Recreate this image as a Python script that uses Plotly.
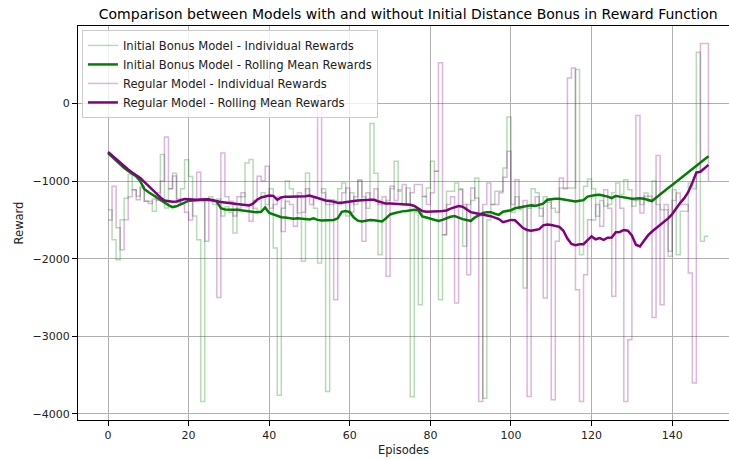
import plotly.graph_objects as go

episodes = list(range(150))

bonus_rewards = [
    -1368, -1755, -2013, -1497, -1220, -916, -1110, -1196, -1067, -1260,
    -1260, -1390, -1150, -658, -1346, -1100, -900, -1280, -1100, -723,
    -940, -1450, -1755, -3841, -1250, -1200, -1300, -1230, -1450, -1330,
    -1400, -1670, -1350, -1200, -765, -722, -1350, -1400, -1150, -1300,
    -1100, -1862, -3760, -1350, -1000, -1100, -1200, -1411, -2034, -895,
    -1200, -1350, -2056, -1100, -3712, -1300, -1250, -1100, -1024, -1450,
    -1150, -1300, -981, -1200, -1350, -258, -900, -1948, -1300, -1250,
    -1100, -744, -1131, -1300, -1088, -3780, -1400, -2594, -1200, -1088,
    -744, -873, -2529, -1690, -1131, -1131, -1024, -1100, -1840, -1300,
    -1250, -959, -1450, -3800, -1500, -1300, -1131, -1131, -830, -172,
    -1400, -1200, -1368, -2378, -1350, -1100, -1150, -1453, -1200, -1273,
    -1350, -1400, -1088, -1088, -1088, -1088, 440, -1948, -1067, -972,
    -1100, -1453, -1250, -1325, -1300, -1150, -1024, -1174, -981, -1110,
    -1325, -1250, -1300, -1153, -1260, -1000, -1300, -1368, -1368, -1970,
    -1110, -1948, -1390, -1390, -1024, -1100, 662, -1776, -1712, -1712,
]

bonus_rolling = [
    -640, -690, -740, -790, -830, -870, -905, -940, -1000, -1100,
    -1140, -1175, -1210, -1245, -1280, -1310, -1335, -1325, -1300, -1275,
    -1255, -1250, -1245, -1245, -1240, -1245, -1250, -1265, -1350, -1365,
    -1370, -1368, -1370, -1378, -1385, -1395, -1400, -1402, -1395, -1340,
    -1410, -1430, -1445, -1465, -1470, -1478, -1485, -1480, -1485, -1490,
    -1495, -1480, -1500, -1508, -1505, -1505, -1500, -1480, -1395, -1385,
    -1400, -1470, -1510, -1520, -1510, -1500, -1505, -1515, -1520, -1480,
    -1430, -1415, -1400, -1390, -1385, -1380, -1370, -1375, -1455, -1470,
    -1485, -1500, -1515, -1500, -1475, -1460, -1450, -1475, -1490, -1500,
    -1515, -1470, -1440, -1410, -1400, -1400, -1420, -1435, -1395, -1385,
    -1375, -1350, -1340, -1335, -1320, -1313, -1320, -1305, -1290, -1240,
    -1232, -1228, -1228, -1235, -1245, -1258, -1262, -1252, -1245, -1200,
    -1185, -1178, -1175, -1185, -1200, -1218, -1190, -1200, -1210, -1220,
    -1226, -1225, -1220, -1228, -1245, -1257, -1215, -1170, -1130, -1090,
    -1050, -1010, -970, -930, -890, -850, -810, -770, -725, -680,
]

regular_rewards = [
    -1500, -1067, -1600, -1884, -1497, -1200, -1110, -1240, -1090, -1260,
    -1290, -1230, -1250, -1000, -430, -1100, -935, -1230, -1300, -1400,
    -1500, -1250, -886, -1250, -1776, -1240, -1260, -2500, -637, -1200,
    -1260, -1450, -1200, -1150, -1300, -1518, -1250, -938, -1000, -808,
    -1350, -1300, -1200, -1650, -1260, -1300, -1583, -1150, -1400, -1100,
    -1300, -1200, 100, -1150, -1300, -1239, -2529, -1300, -1150, -1088,
    -1400, -1200, -1000, -1776, -1150, -1250, -1100, -1300, -1200, -2228,
    -1067, -1250, -1110, -1045, -1300, -1150, -1045, -1045, -1196, -1300,
    -1150, -873, 525, -1690, -1303, -1200, -2572, -1110, -1300, -2206,
    -1088, -1217, -3841, -1300, -1024, -1303, -1303, -1150, -950, -615,
    -1300, -981, -1350, -1250, -3776, -1303, -1200, -1350, -2507, -1250,
    -3819, -1776, -959, -1100, 330, 460, -2400, -3841, -2206, -1497,
    -1500, -1300, -1583, -1110, -1350, -2486, -1200, -1350, -3841, -3045,
    -1250, -155, -1411, -1196, -1196, -2757, -671, -2594, -1300, -1905,
    -1250, -1153, -1303, -1303, -2185, -3604, -887, 774, 774, -1000,
]

regular_rolling = [
    -625, -670, -720, -770, -810, -850, -890, -925, -960, -1010,
    -1060, -1110, -1165, -1210, -1250, -1262, -1265, -1262, -1245, -1232,
    -1235, -1240, -1240, -1238, -1232, -1235, -1245, -1260, -1268, -1275,
    -1285, -1292, -1295, -1300, -1308, -1313, -1290, -1240, -1210, -1195,
    -1185, -1190, -1240, -1210, -1200, -1200, -1198, -1200, -1200, -1195,
    -1185, -1200, -1220, -1240, -1250, -1255, -1270, -1280, -1280, -1270,
    -1260, -1255, -1250, -1250, -1245, -1240, -1240, -1260, -1275, -1290,
    -1290, -1292, -1292, -1295, -1300, -1305, -1320, -1348, -1385, -1395,
    -1395, -1390, -1390, -1385, -1378, -1355, -1335, -1322, -1330, -1360,
    -1400, -1410, -1420, -1430, -1445, -1452, -1470, -1490, -1530, -1515,
    -1500, -1505, -1560, -1605, -1630, -1640, -1630, -1620, -1570, -1560,
    -1565, -1580, -1590, -1640, -1740, -1810, -1826, -1815, -1813, -1760,
    -1713, -1750, -1735, -1757, -1730, -1726, -1660, -1655, -1630, -1640,
    -1700, -1820, -1843, -1770, -1700, -1650, -1610, -1570, -1530, -1480,
    -1425, -1350, -1280, -1220, -1140, -1020, -890, -880, -840, -790,
]

x_ticks = [0, 20, 40, 60, 80, 100, 120, 140]
y_ticks = [-4000, -3000, -2000, -1000, 0]

GREEN = "#008000"
PURPLE = "#800080"
FONT = "DejaVu Sans"

fig = go.Figure()
fig.add_trace(go.Scatter(
    x=episodes, y=bonus_rewards, mode="lines",
    line=dict(color=GREEN, width=1.5, shape="hv"), opacity=0.28,
    name="Initial Bonus Model - Individual Rewards"))
fig.add_trace(go.Scatter(
    x=episodes, y=bonus_rolling, mode="lines",
    line=dict(color=GREEN, width=2.5),
    name="Initial Bonus Model - Rolling Mean Rewards"))
fig.add_trace(go.Scatter(
    x=episodes, y=regular_rewards, mode="lines",
    line=dict(color=PURPLE, width=1.5, shape="hv"), opacity=0.28,
    name="Regular Model - Individual Rewards"))
fig.add_trace(go.Scatter(
    x=episodes, y=regular_rolling, mode="lines",
    line=dict(color=PURPLE, width=2.5),
    name="Regular Model - Rolling Mean Rewards"))

fig.update_layout(
    width=729, height=460,
    margin=dict(l=78, r=0, t=26, b=40),
    paper_bgcolor="white", plot_bgcolor="white",
    font=dict(family=FONT, size=11, color="#222"),
    title=dict(text="Comparison between Models with and without Initial Distance Bonus in Reward Function",
               x=0.56, xanchor="center", y=0.98, yanchor="top",
               font=dict(family=FONT, size=14, color="black")),
    legend=dict(x=0.006, y=0.99, xanchor="left", yanchor="top",
                bgcolor="rgba(255,255,255,0.8)", bordercolor="#cccccc", borderwidth=1,
                font=dict(family=FONT, size=11.6, color="#222"),
                tracegroupgap=0, itemwidth=30),
    showlegend=True,
)
fig.update_xaxes(
    range=[-7.45, 154.1], tickvals=x_ticks, showgrid=True, gridcolor="#b0b0b0", gridwidth=1,
    zeroline=False, showline=True, linecolor="black", linewidth=1, mirror=True,
    ticks="outside", ticklen=5, tickcolor="black",
    title=dict(text="Episodes", font=dict(family=FONT, size=11.5), standoff=4),
)
fig.update_yaxes(
    range=[-4080, 1000], tickvals=y_ticks, showgrid=True, gridcolor="#b0b0b0", gridwidth=1,
    zeroline=False, showline=True, linecolor="black", linewidth=1,
    ticks="outside", ticklen=5, tickcolor="black",
    title=dict(text="Reward", font=dict(family=FONT, size=11.5), standoff=6),
)

fig.write_html("out.html")
